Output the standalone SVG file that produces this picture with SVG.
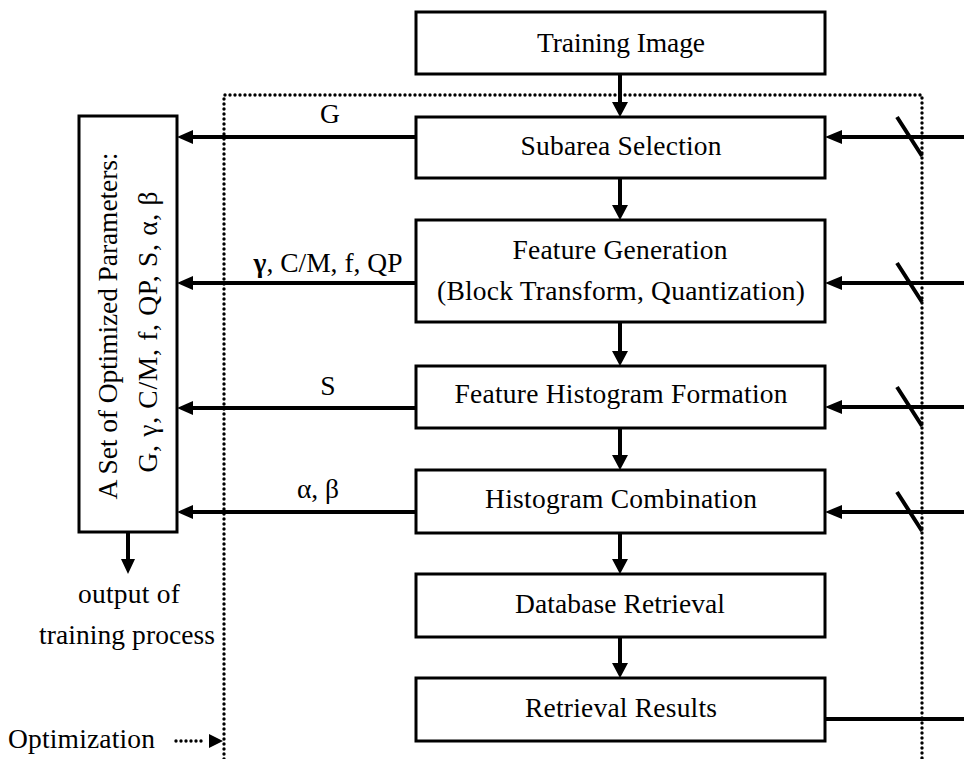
<svg xmlns="http://www.w3.org/2000/svg" width="964" height="759" viewBox="0 0 964 759">
<style>
  .box{fill:#fff;stroke:#000;stroke-width:3}
  .t{font-family:"Liberation Serif","Times New Roman",serif;font-size:27.5px;fill:#000}
  .c{text-anchor:middle}
  .ln{stroke:#000;stroke-width:4;fill:none}
  .dot{stroke:#000;stroke-width:3.4;fill:none;stroke-dasharray:0 5;stroke-linecap:round}
  .ah{fill:#000}
</style>
<rect width="964" height="759" fill="#fff"/>
<g id="optimization-region">
  <path class="dot" d="M224,759 V95 H922 V759"/>
</g>
<g id="training-image"><rect class="box" x="416" y="12" width="409" height="62"/><text class="t c" x="621" y="52" textLength="168">Training Image</text></g>
<g id="subarea-selection"><rect class="box" x="416" y="117" width="409" height="61"/><text class="t c" x="621" y="155" textLength="201">Subarea Selection</text></g>
<g id="feature-generation"><rect class="box" x="416" y="220" width="409" height="102"/><text class="t c" x="620" y="259" textLength="215">Feature Generation</text><text class="t c" x="621" y="300" textLength="368">(Block Transform, Quantization)</text></g>
<g id="feature-histogram-formation"><rect class="box" x="416" y="366" width="409" height="62"/><text class="t c" x="621" y="403" textLength="333">Feature Histogram Formation</text></g>
<g id="histogram-combination"><rect class="box" x="416" y="470" width="409" height="63"/><text class="t c" x="621" y="508" textLength="272">Histogram Combination</text></g>
<g id="database-retrieval"><rect class="box" x="416" y="574" width="409" height="63"/><text class="t c" x="620" y="613" textLength="210">Database Retrieval</text></g>
<g id="retrieval-results"><rect class="box" x="416" y="678" width="409" height="63"/><text class="t c" x="621" y="717" textLength="192">Retrieval Results</text></g>
<g id="optimized-parameters"><rect class="box" x="79" y="116" width="98" height="416"/>
  <text class="t c" transform="translate(117,326) rotate(-90)" textLength="347">A Set of Optimized Parameters:</text>
  <text class="t c" transform="translate(157,332) rotate(-90)" textLength="281">G, γ, C/M, f, QP, S, α, β</text>
</g>
<g id="output-label"><text class="t c" x="129" y="603" textLength="102">output of</text><text class="t c" x="127" y="644" textLength="176">training process</text></g>
<g id="legend"><text class="t" x="8" y="748" textLength="147">Optimization</text>
  <path class="dot" d="M176,741 H206"/><polygon class="ah" points="209,734 223,741 209,748"/></g>
<g id="connectors">
  <path class="ln" d="M620,74 V104 M620,178 V207 M620,322 V353 M620,428 V457 M620,533 V561 M620,637 V665"/>
  <polygon class="ah" points="612,102 628,102 620,117"/>
  <polygon class="ah" points="612,205 628,205 620,220"/>
  <polygon class="ah" points="612,351 628,351 620,366"/>
  <polygon class="ah" points="612,455 628,455 620,470"/>
  <polygon class="ah" points="612,559 628,559 620,574"/>
  <polygon class="ah" points="612,663 628,663 620,678"/>
  <path class="ln" d="M416,137 H190 M416,283 H190 M416,408 H190 M416,512 H190"/>
  <polygon class="ah" points="193,130 193,144 177,137"/>
  <polygon class="ah" points="193,276 193,290 177,283"/>
  <polygon class="ah" points="193,401 193,415 177,408"/>
  <polygon class="ah" points="193,505 193,519 177,512"/>
  <text class="t c" x="330" y="123">G</text>
  <text class="t c" x="328" y="272" textLength="149"><tspan font-weight="bold">γ</tspan>, C/M, f, QP</text>
  <text class="t c" x="328" y="395">S</text>
  <text class="t c" x="318" y="498">α, β</text>
  <path class="ln" d="M128,532 V562"/>
  <polygon class="ah" points="121,559 135,559 128,574"/>
  <path class="ln" d="M964,137 H838 M964,283 H838 M964,407 H838 M964,512 H838 M825,719 H964"/>
  <polygon class="ah" points="842,130 842,144 825,137"/>
  <polygon class="ah" points="842,276 842,290 825,283"/>
  <polygon class="ah" points="842,400 842,414 825,407"/>
  <polygon class="ah" points="842,505 842,519 825,512"/>
  <path class="ln" d="M897,117 L922,156 M897,263 L922,302 M897,387 L922,426 M897,492 L922,531"/>
</g>
</svg>
